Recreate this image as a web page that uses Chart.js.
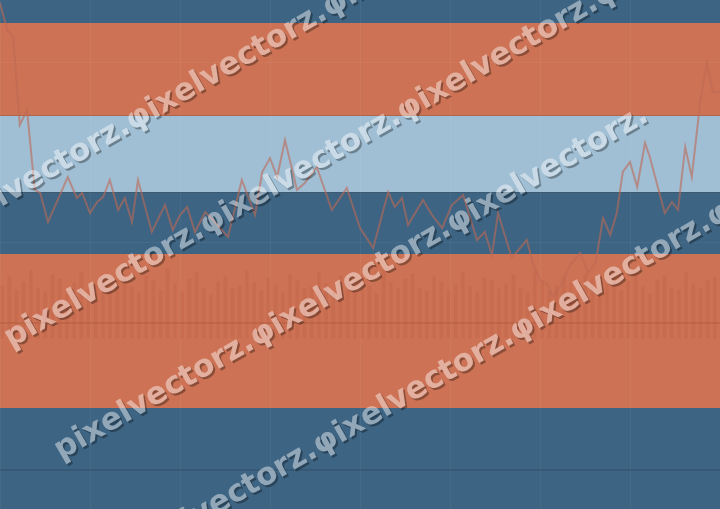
<!DOCTYPE html>
<html>
<head>
<meta charset="utf-8">
<script src="https://cdn.jsdelivr.net/npm/chart.js@4/dist/chart.umd.min.js"></script>
<style>
  html, body { margin: 0; padding: 0; background: #3d6483; }
  #wrap { width: 720px; height: 509px; }
</style>
</head>
<body>
<div id="wrap"><canvas id="c" width="720" height="509"></canvas></div>
<script>
// ---- data ----
const days = [0,1.2,2.2,3.3,4.5,5.8,6.7,8.0,11.3,12.8,13.7,15.0,16.2,17.2,18.3,19.7,20.8,22.0,23.0,25.3,27.5,28.8,30.0,31.2,32.5,34.2,35.8,38.0,40.3,42.5,43.7,45.0,46.2,47.5,49.5,50.8,52.8,55.3,57.8,60.0,62.2,64.7,65.8,67.0,68.0,70.5,72.0,73.7,75.3,77.2,79.5,80.8,82.0,83.0,85.3,87.8,88.8,90.0,91.2,92.2,93.7,95.0,96.7,98.0,99.3,100.5,101.7,102.8,103.8,105.0,106.2,107.5,108.3,110.8,112.0,113.0,114.2,115.3,116.7,117.8,118.8,120.0];
const price = [50.6,47.9,47.2,38.4,39.9,31.9,31.6,28.7,33.2,31.1,31.6,29.6,30.7,31.2,32.9,29.9,31.1,28.7,32.9,27.7,30.4,27.9,29.4,30.2,27.7,29.7,28.7,27.2,32.9,29.4,33.7,35.1,33.2,36.9,31.9,32.6,34.2,29.9,32.1,28.1,26.1,31.7,30.2,31.1,28.4,30.9,29.4,28.1,30.4,31.4,26.9,27.7,25.4,29.6,25.1,26.9,24.6,22.9,22.5,21.2,22.6,24.4,25.6,23.6,24.7,29.1,27.4,29.6,33.7,34.7,32.2,36.6,35.2,29.6,30.7,29.9,36.2,33.2,40.7,44.7,41.7,41.7];
const volume = [5.2,6.1,4.8,5.6,6.8,5.0,4.6,6.3,5.9,4.4,5.5,6.6,4.9,5.3,6.0,4.7,5.8,6.4,5.1,4.5,6.2,5.7,4.8,6.9,5.4,4.6,5.9,6.5,5.0,4.3,5.6,6.1,4.9,5.2,6.7,5.5,4.7,6.0,5.3,4.5,6.3,5.8,4.9,5.1,6.6,5.4,4.6,6.2,5.7,4.8,6.0,5.2,4.4,6.8,5.5,4.9,5.9,6.4,5.0,4.7,6.1,5.6,4.8,5.3,6.5,5.1,4.6,6.0,5.8,4.9,5.4,6.3,5.0,4.5,6.7,5.7,4.8,5.2,6.1,5.5,4.6,6.4,5.9,4.9,5.3,6.0,4.7,5.6,6.6,5.1,4.4,5.8,6.2,5.0,4.8,6.5,5.4,4.9,5.7,6.0];
const volBase = 17.1;
const volLabels = volume.map((v, i) => String(i + 1));
const bandHigh  = [50.9, 48.6, 39.3, 31.7, 25.5, 10.1];
const bandLow   = [48.6, 39.3, 31.7, 25.5, 10.1, 0];
const bandColor = ['#3d6483', '#cd7254', '#a0bfd4', '#3d6483', '#cd7254', '#3d6483'];
const refLevels = [18.6, 3.9];
const yGrid = [44.6, 26.6];
const watermarkTexts = [
  'pixelvectorz.φixelvectorz.φixelvectorz.',
  'pixelvectorz.φixelvectorz.φixelvectorz.φixelvectorz.',
  'pixelvectorz.φixelvectorz.φixelvectorz.',
  'pixelvectorz.φixelvectorz.φixelvectorz.φixelvectorz.'
];

// ---- plugins ----
const bandsPlugin = {
  id: 'bands',
  beforeDraw(chart) {
    const { ctx, chartArea: a, scales: { y } } = chart;
    ctx.save();
    for (let i = 0; i < bandColor.length; i++) {
      const t = y.getPixelForValue(bandHigh[i]);
      const b = y.getPixelForValue(bandLow[i]);
      ctx.fillStyle = bandColor[i];
      ctx.fillRect(a.left, t, a.right - a.left, b - t);
    }
    ctx.fillStyle = 'rgba(60,60,60,0.22)';
    ctx.fillRect(a.left, Math.round(y.getPixelForValue(bandHigh[2])) - 1, a.right - a.left, 1);
    ctx.fillRect(a.left, Math.round(y.getPixelForValue(bandLow[2])), a.right - a.left, 1);
    ctx.restore();
  }
};

const watermarkPlugin = {
  id: 'watermark',
  afterDraw(chart) {
    const { ctx, width, height } = chart;
    const rows = [[-67, 237], [7, 341], [57, 453], [120, 561]];
    const ang = -30 * Math.PI / 180;
    const font = 'bold 31px "DejaVu Sans"';
    const off = document.createElement('canvas');
    off.width = width; off.height = height;
    const o = off.getContext('2d');
    o.font = font; o.textBaseline = 'middle';
    const drawAll = (c, dx, dy) => {
      rows.forEach(([x, yy], i) => {
        c.save();
        c.translate(x + dx, yy + dy);
        c.rotate(ang);
        c.fillText(watermarkTexts[i], 0, 0);
        c.restore();
      });
    };
    o.fillStyle = '#000';
    drawAll(o, 2, 2);
    o.globalCompositeOperation = 'destination-out';
    drawAll(o, 0, 0);
    ctx.save();
    ctx.globalAlpha = 0.32;
    ctx.drawImage(off, 0, 0);
    ctx.globalAlpha = 1;
    ctx.font = font; ctx.textBaseline = 'middle';
    ctx.fillStyle = 'rgba(255,255,255,0.44)';
    drawAll(ctx, 0, 0);
    ctx.restore();
  }
};

const hidden = { display: false };
new Chart(document.getElementById('c'), {
  data: {
    datasets: [
      {
        type: 'bar',
        xAxisID: 'xv',
        data: volume.map(v => [volBase, volBase + v]),
        backgroundColor: 'rgba(150,60,40,0.09)',
        barThickness: 3,
        order: 3
      },
      {
        type: 'line',
        data: [{ x: 0, y: refLevels[0] }, { x: 120, y: refLevels[0] }],
        borderColor: '#b35d40',
        borderWidth: 1,
        pointRadius: 0,
        order: 2
      },
      {
        type: 'line',
        data: [{ x: 0, y: refLevels[1] }, { x: 120, y: refLevels[1] }],
        borderColor: '#324f68',
        borderWidth: 1.2,
        pointRadius: 0,
        order: 2
      },
      {
        type: 'line',
        data: days.map((d, i) => ({ x: d, y: price[i] })),
        borderColor: 'rgba(190,105,85,0.6)',
        borderWidth: 2,
        pointRadius: 0,
        tension: 0,
        order: 1
      }
    ]
  },
  options: {
    responsive: false,
    animation: false,
    layout: { padding: 0 },
    plugins: { legend: hidden, tooltip: { enabled: false }, title: hidden },
    scales: {
      x: {
        type: 'linear', min: 0, max: 120,
        ticks: { display: false, stepSize: 15 },
        grid: { color: 'rgba(255,255,255,0.05)', drawTicks: false },
        border: hidden
      },
      xv: {
        type: 'category', labels: volLabels, offset: true, display: false
      },
      y: {
        type: 'linear', min: 0, max: 50.9,
        afterBuildTicks: (s) => { s.ticks = yGrid.map(v => ({ value: v })); },
        ticks: { display: false },
        grid: { color: 'rgba(255,255,255,0.05)', drawTicks: false },
        border: hidden
      }
    }
  },
  plugins: [bandsPlugin, watermarkPlugin]
});
</script>
</body>
</html>
